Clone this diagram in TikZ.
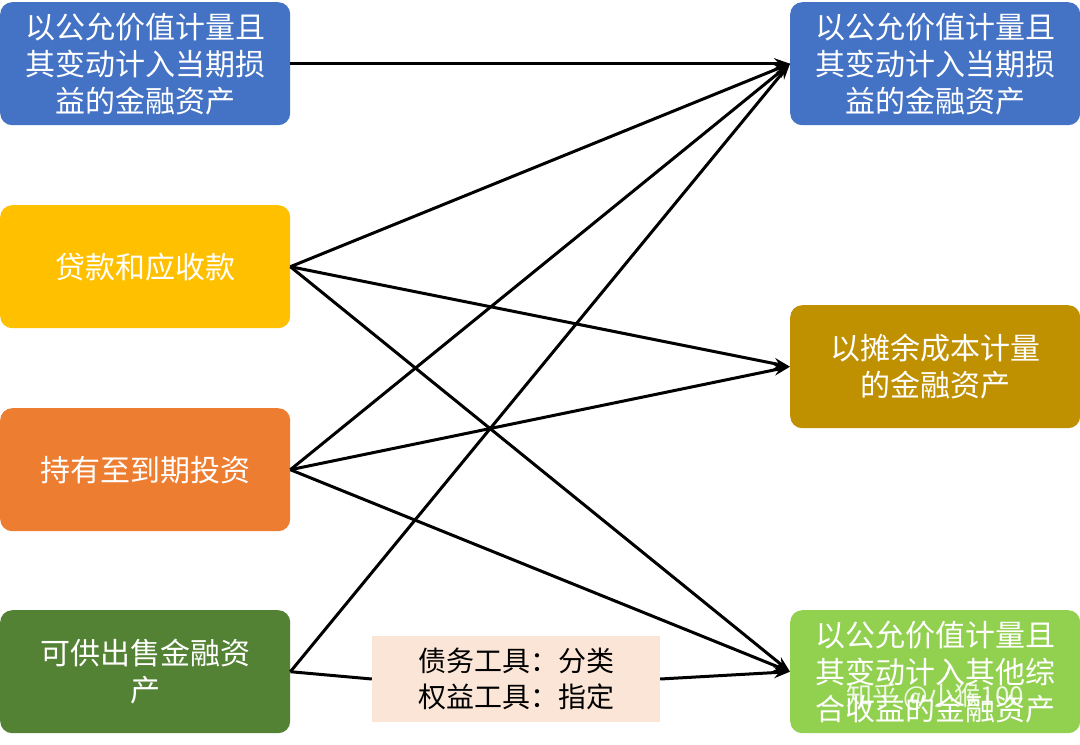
\documentclass[tikz,border=0pt]{standalone}
\usepackage{fontspec}
\usetikzlibrary{arrows.meta}
\setmainfont{Noto Sans CJK SC}
\definecolor{cblue}{HTML}{4472C4}
\definecolor{cyel}{HTML}{FFC000}
\definecolor{corg}{HTML}{ED7D31}
\definecolor{cgrn}{HTML}{548235}
\definecolor{cgold}{HTML}{BF9000}
\definecolor{clgrn}{HTML}{92D050}
\definecolor{cpeach}{HTML}{FBE5D6}
\begin{document}
\begin{tikzpicture}[x=1pt,y=-1pt,
 box/.style={rounded corners=12pt,minimum width=290pt,minimum height=123pt,inner sep=0pt,text=white,font=\fontsize{30}{37}\selectfont,align=center,anchor=north west},
 arr/.style={-{Stealth[length=16pt,width=11pt]},line width=3pt}]
\useasboundingbox (0,0) rectangle (1080,745);
\fill[white] (0,0) rectangle (1080,745);
\node[box,fill=cblue] (L1) at (0,2) {以公允价值计量且\\其变动计入当期损\\益的金融资产};
\node[box,fill=cyel] (L2) at (0,205) {贷款和应收款};
\node[box,fill=corg] (L3) at (0,408) {持有至到期投资};
\node[box,fill=cgrn] (L4) at (0,610) {可供出售金融资\\产};
\node[box,fill=cblue] (R1) at (790,2) {以公允价值计量且\\其变动计入当期损\\益的金融资产};
\node[box,fill=cgold] (R2) at (790,305) {以摊余成本计量\\的金融资产};
\node[box,fill=clgrn] (R3) at (790,610) {以公允价值计量且\\其变动计入其他综\\合收益的金融资产};
\draw[arr] (L1.east) -- (R1.west);
\foreach \s in {L2,L3}{\foreach \t in {R1,R2,R3}{\draw[arr] (\s.east) -- (\t.west);}}
\draw[arr] (L4.east) -- (R1.west);
\node[fill=cpeach,minimum width=288pt,minimum height=86pt,align=center,font=\fontsize{28}{36}\selectfont] (lab) at (516,679) {债务工具：分类\\权益工具：指定};
\draw[line width=3pt] (L4.east) -- (lab.west);
\draw[arr] (lab.east) -- (R3.west);
\node[text=white,opacity=0.85,font=\fontsize{26}{28}\selectfont] (wm) at (935,697) {知乎 @小猴100};
\end{tikzpicture}
\end{document}
